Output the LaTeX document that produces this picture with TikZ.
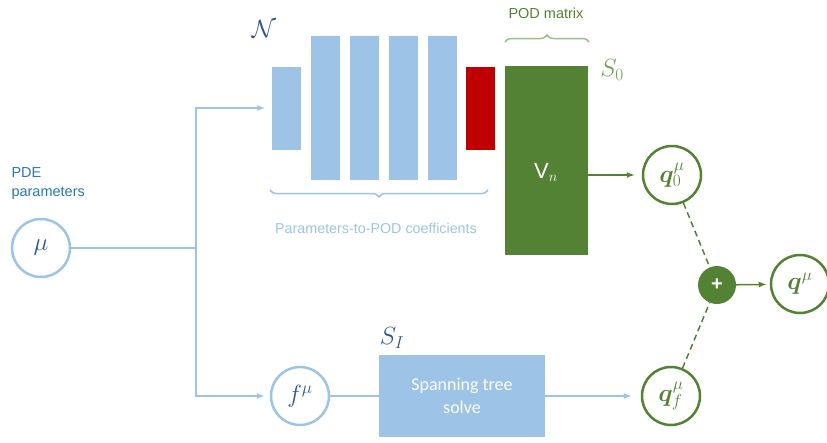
\documentclass[tikz,border=0pt]{standalone}
\usepackage[no-math]{fontspec}
\usepackage{bm}
\usetikzlibrary{positioning,decorations.pathreplacing,arrows.meta}
\newfontfamily\arialfont{Liberation Sans}
\newfontfamily\calibrifont{Carlito}
\definecolor{netblue}{HTML}{9DC3E6}
\definecolor{textblue}{HTML}{2E75B6}
\definecolor{mathblue}{HTML}{2F5597}
\definecolor{podgreen}{HTML}{548235}
\definecolor{bracegreen}{HTML}{9BBF85}
\definecolor{szerogreen}{HTML}{6E9A58}
\definecolor{podred}{HTML}{C00000}
\tikzstyle{layer} = [rectangle, minimum width=29pt, minimum height=144pt, inner sep=0pt, fill=netblue]
\tikzstyle{shortlayer} = [layer, minimum height=83pt]
\tikzstyle{bluecircle} = [circle, minimum size=58pt, inner sep=0pt, draw=netblue, line width=2.5pt, text=mathblue, font=\fontsize{25}{30}\selectfont]
\tikzstyle{greencircle} = [bluecircle, draw=podgreen, text=podgreen]
\tikzstyle{blueline} = [netblue, line width=1.5pt]
\tikzstyle{bluearrow} = [blueline, -{Latex[length=8pt,width=6pt]}]
\tikzstyle{greenarrow} = [podgreen, line width=1.5pt, -{Latex[length=8pt,width=6pt]}]
\tikzstyle{dashline} = [podgreen, line width=1.5pt, dash pattern=on 6pt off 4pt]
\tikzstyle{mathlabel} = [font=\fontsize{25}{30}\selectfont]

\begin{document}
\begin{tikzpicture}[x=1pt, y=-1pt]
        \useasboundingbox (0,0) rectangle (827,442);

        % network layers
        \node (layer1) [shortlayer] at (286,108) {};
        \node (layer2) [layer, right of=layer1, node distance=39pt] {};
        \node (layer3) [layer, right of=layer2, node distance=39pt] {};
        \node (layer4) [layer, right of=layer3, node distance=39pt] {};
        \node (layer5) [layer, right of=layer4, node distance=39pt] {};
        \node (layer6) [shortlayer, fill=podred, right of=layer5, node distance=38pt] {};
        \node (pod) [rectangle, minimum width=83pt, minimum height=189pt, fill=podgreen] at (546,160) {};
        \node (podtext) [text=white, font=\fontsize{22}{26}\selectfont] at (546,172) {{\arialfont V}$_n$};

        % circles and solver
        \node (mu) [bluecircle] at (41,248) {$\mu$};
        \node (fmu) [bluecircle] at (300,396) {$f^{\mu}$};
        \node (solver) [rectangle, fill=netblue, minimum width=166pt, minimum height=82pt, text=white, align=center, font=\calibrifont\fontsize{18}{23}\selectfont] at (462,396) {Spanning tree\\solve};
        \node (q0) [greencircle] at (672,175) {$\bm{q}_0^{\mu}$};
        \node (qf) [greencircle] at (671,396) {$\bm{q}_f^{\mu}$};
        \node (plus) [circle, fill=podgreen, minimum size=38pt, inner sep=0pt, text=white, font=\arialfont\bfseries\fontsize{20}{24}\selectfont] at (717,285) {+};
        \node (q) [greencircle] at (800,284) {$\bm{q}^{\mu}$};

        % labels
        \node (pdelabel) [text=textblue, align=left, anchor=west, font=\arialfont\fontsize{14.5}{19}\selectfont] at (8,184) {PDE\\parameters};
        \node (netname) [mathlabel, text=mathblue] at (264,29) {$\mathcal{N}$};
        \node (szero) [mathlabel, text=szerogreen] at (612,70) {$S_0$};
        \node (sone) [mathlabel, text=mathblue] at (392,338) {$S_I$};
        \node (netlabel) [text=netblue, font=\arialfont\fontsize{14.3}{17}\selectfont] at (376,228) {Parameters-to-POD coefficients};
        \node (podlabel) [text=podgreen, font=\arialfont\fontsize{14.5}{17}\selectfont] at (546,13) {POD matrix};

        % braces
        \draw [netblue, line width=1.5pt, decorate, decoration={brace, mirror, amplitude=7pt}] (270,190) -- (488,190);
        \draw [bracegreen, line width=1.5pt, decorate, decoration={brace, amplitude=7pt}] (505,42) -- (589,42);

            % Add arrows connecting the nodes
        \coordinate (split) at (196,248);
        \draw [blueline] (mu) -- (split);
        \draw [bluearrow, shorten >=6pt] (split) |- (layer1);
        \draw [bluearrow, shorten >=5pt] (split) |- (fmu);
        \draw [blueline] (fmu) -- (solver);
        \draw [bluearrow, shorten >=9pt] (solver) -- (qf);
        \draw [greenarrow, shorten >=7pt] (q0 -| pod.east) -- (q0);
        \draw [dashline] (q0) -- (plus);
        \draw [dashline] (qf) -- (plus);
        \draw [greenarrow, shorten >=3pt] (plus) -- (q);
    \end{tikzpicture}
\end{document}
